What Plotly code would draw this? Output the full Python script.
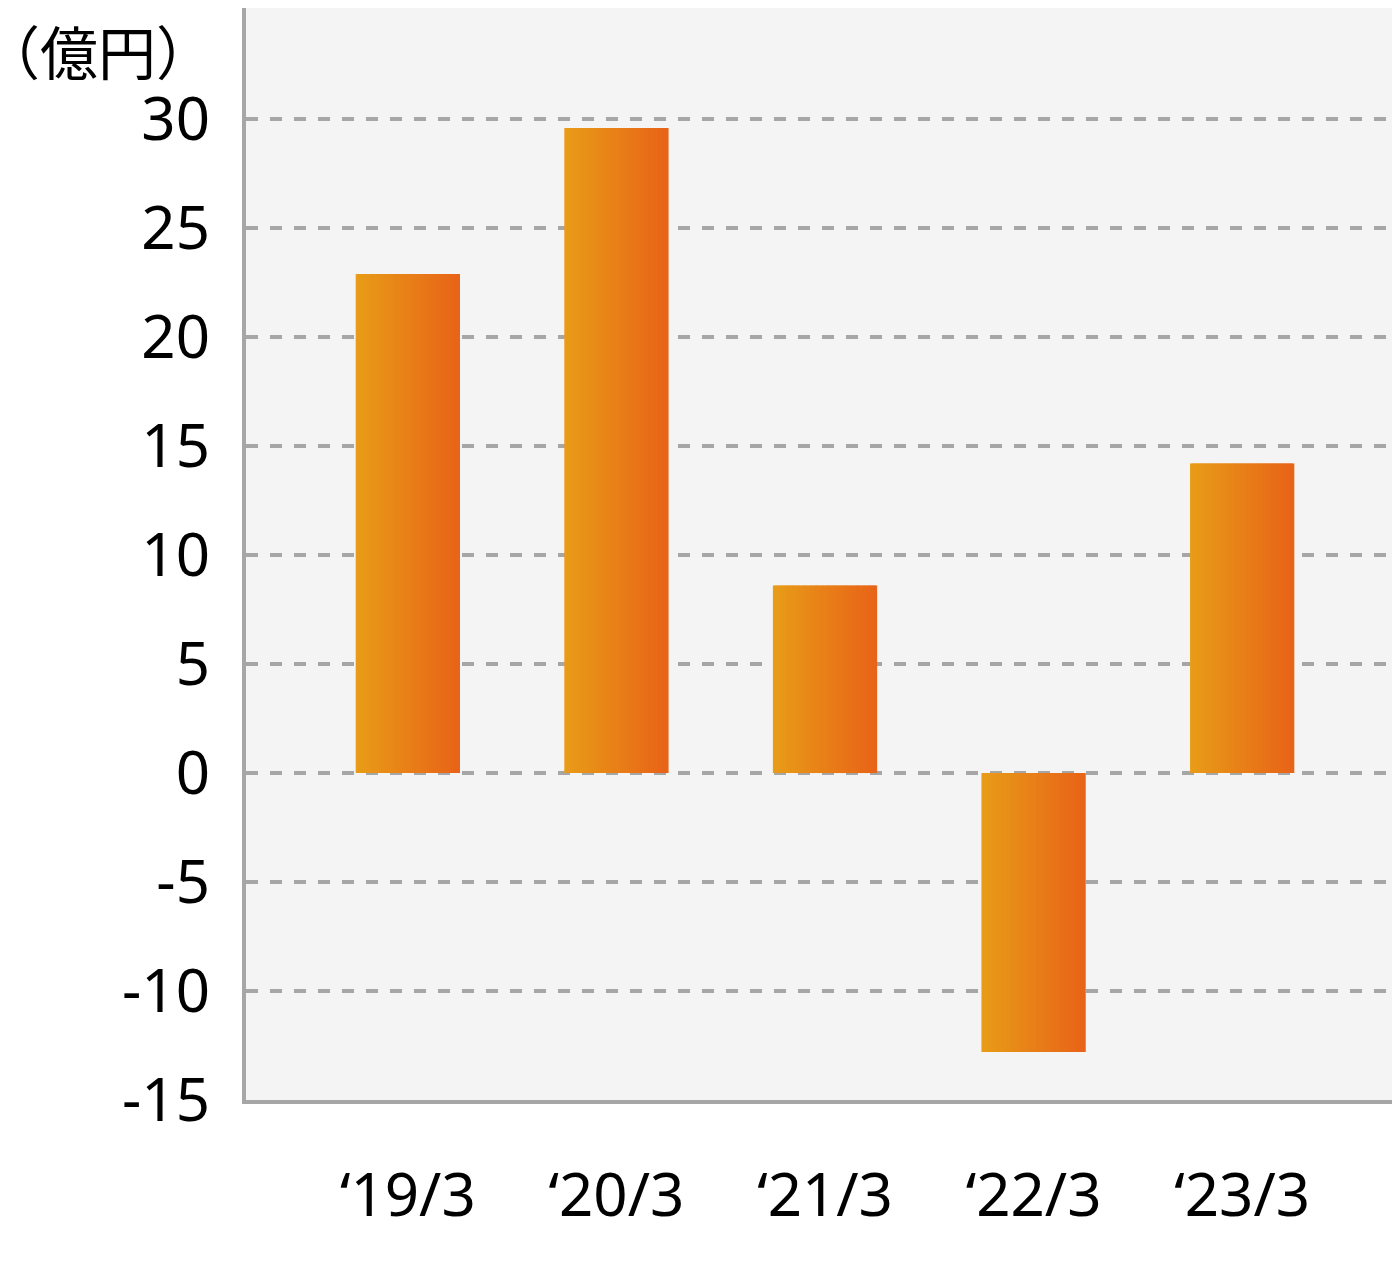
import plotly.graph_objects as go

categories = ["‘19/3", "‘20/3", "‘21/3", "‘22/3", "‘23/3"]
values = [22.9, 29.6, 8.6, -12.8, 14.2]
y_ticks = [-15, -10, -5, 0, 5, 10, 15, 20, 25, 30]
y_labels = ["-15", "-10", "-5", "0", "5", "10", "15", "20", "25", "30"]

c0 = (232, 156, 24)
c1 = (232, 100, 24)
n = 60
bw = 0.5
fig = go.Figure()
xs = list(range(len(categories)))
for i in range(n):
    t = i / (n - 1)
    col = "rgb(%d,%d,%d)" % tuple(round(a + (b - a) * t) for a, b in zip(c0, c1))
    fig.add_trace(go.Bar(x=xs, y=values, width=bw / n * 2, offset=-bw / 2 + i * bw / n * (n - 2) / (n - 1) ,
                         marker=dict(color=col, line=dict(width=0)), showlegend=False,
                         hoverinfo="skip"))
fig.update_layout(
    barmode="overlay", width=1400, height=1273,
    margin=dict(l=238, r=0, t=0, b=181),
    paper_bgcolor="white", plot_bgcolor="#f4f4f4",
    font=dict(family="Noto Sans, Noto Sans CJK JP", size=60, color="black"),
    annotations=[dict(text="（億円）", x=0, y=1, xref="paper", yref="paper", xanchor="right",
                      yanchor="top", xshift=-30, yshift=2, showarrow=False,
                      font=dict(size=58, family="Noto Sans CJK JP"))],
)
fig.update_xaxes(tickvals=xs, ticktext=categories, range=[-0.776, 4.795],
                 showline=True, linecolor="#a6a6a6", linewidth=4, showgrid=False,
                 ticks="", ticklabelstandoff=40)
fig.update_yaxes(tickvals=y_ticks, ticktext=y_labels, range=[-15, 35.1], showline=True,
                 linecolor="#a6a6a6", linewidth=4, showgrid=True, gridcolor="#a6a6a6",
                 gridwidth=4, griddash="dash", zeroline=False, ticks="", ticklabelstandoff=20)
fig.write_html("out.html")
